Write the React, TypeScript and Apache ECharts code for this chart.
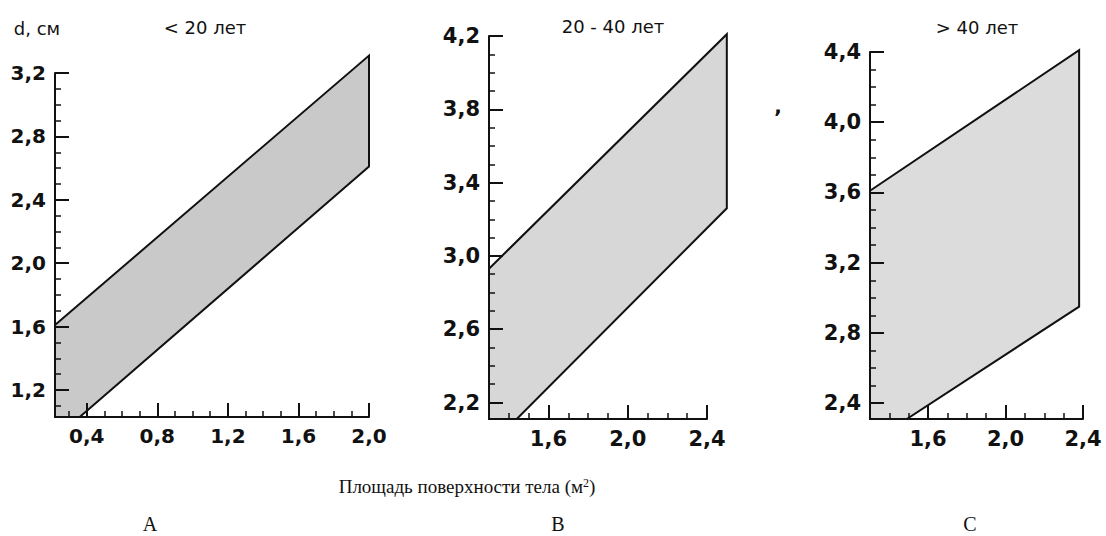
import React, { useEffect, useRef } from "react";
import * as echarts from "echarts";

// Panel titles and captions
const panelTitles = ["< 20 лет", "20 - 40 лет", "> 40 лет"];
const panelLetters = ["A", "B", "C"];
const yName = "d, см";
const xCaption = "Площадь поверхности тела (м";

// Axis ranges [min, max]
const xRangeA = [0.22, 2.0];
const yRangeA = [1.03, 3.2];
const xRangeB = [1.3, 2.4];
const yRangeB = [2.11, 4.2];
const xRangeC = [1.3, 2.4];
const yRangeC = [2.31, 4.4];

// Tick values
const xMajorA = [0.4, 0.8, 1.2, 1.6, 2.0];
const xMinorA = [0.3, 0.5, 0.6, 0.7, 0.9, 1.0, 1.1, 1.3, 1.4, 1.5, 1.7, 1.8, 1.9];
const yMajorA = [1.2, 1.6, 2.0, 2.4, 2.8, 3.2];
const yMinorA = [1.1, 1.3, 1.4, 1.5, 1.7, 1.8, 1.9, 2.1, 2.2, 2.3, 2.5, 2.6, 2.7, 2.9, 3.0, 3.1];

const xMajorB = [1.6, 2.0, 2.4];
const xMinorB = [1.4, 1.5, 1.7, 1.8, 1.9, 2.1, 2.2, 2.3];
const yMajorB = [2.2, 2.6, 3.0, 3.4, 3.8, 4.2];
const yMinorB = [2.3, 2.4, 2.5, 2.7, 2.8, 2.9, 3.1, 3.2, 3.3, 3.5, 3.6, 3.7, 3.9, 4.0, 4.1];

const xMajorC = [1.6, 2.0, 2.4];
const xMinorC = [1.4, 1.5, 1.7, 1.8, 1.9, 2.1, 2.2, 2.3];
const yMajorC = [2.4, 2.8, 3.2, 3.6, 4.0, 4.4];
const yMinorC = [2.5, 2.6, 2.7, 2.9, 3.0, 3.1, 3.3, 3.4, 3.5, 3.7, 3.8, 3.9, 4.1, 4.2, 4.3];

// Normal-range polygons: [body surface area, diameter]
const polyA = [[0.22, 1.61], [2.0, 3.31], [2.0, 2.61], [0.36, 1.03], [0.22, 1.03]];
const polyB = [[1.3, 2.93], [2.5, 4.21], [2.5, 3.26], [1.44, 2.11], [1.3, 2.11]];
const polyC = [[1.3, 3.61], [2.38, 4.41], [2.38, 2.95], [1.49, 2.31], [1.3, 2.31]];

const panels = [
  { xr: xRangeA, yr: yRangeA, xM: xMajorA, xm: xMinorA, yM: yMajorA, ym: yMinorA, poly: polyA, fill: "#c9c9c9",
    grid: { left: 55, top: 73, width: 314, height: 344 }, labelSize: 20 },
  { xr: xRangeB, yr: yRangeB, xM: xMajorB, xm: xMinorB, yM: yMajorB, ym: yMinorB, poly: polyB, fill: "#d7d7d7",
    grid: { left: 489, top: 36, width: 218, height: 383 }, labelSize: 21 },
  { xr: xRangeC, yr: yRangeC, xM: xMajorC, xm: xMinorC, yM: yMajorC, ym: yMinorC, poly: polyC, fill: "#dcdcdc",
    grid: { left: 870, top: 52, width: 213, height: 367 }, labelSize: 21 },
];

const fmt = (v: number) => v.toFixed(1).replace(".", ",");

export default function App() {
  const ref = useRef<HTMLDivElement>(null);
  useEffect(() => {
    if (!ref.current) return;
    const chart = echarts.init(ref.current, undefined, { renderer: "svg" });
    const grids: any[] = [];
    const xAxes: any[] = [];
    const yAxes: any[] = [];
    const series: any[] = [];
    panels.forEach((p, i) => {
      grids.push({ ...p.grid, containLabel: false });
      const labelStyle = {
        fontFamily: "DejaVu Sans",
        fontWeight: "bold",
        fontSize: p.labelSize,
        color: "#111",
      };
      xAxes.push({
        type: "value", gridIndex: i, min: p.xr[0], max: p.xr[1], z: 5, position: "bottom", offset: 0,
        axisLine: { show: true, lineStyle: { color: "#111", width: 2 } },
        axisTick: { show: true, inside: true, length: 14, customValues: p.xM, lineStyle: { color: "#111", width: 2 } },
        axisLabel: { show: true, customValues: p.xM, formatter: fmt, margin: 9, ...labelStyle },
        splitLine: { show: false },
      });
      xAxes.push({
        type: "value", gridIndex: i, min: p.xr[0], max: p.xr[1], z: 5, position: "bottom", offset: 0,
        axisLine: { show: false },
        axisTick: { show: true, inside: true, length: 6, customValues: p.xm, lineStyle: { color: "#111", width: 1.5 } },
        axisLabel: { show: false },
        splitLine: { show: false },
      });
      yAxes.push({
        type: "value", gridIndex: i, min: p.yr[0], max: p.yr[1], z: 5, position: "left", offset: 0,
        axisLine: { show: true, lineStyle: { color: "#111", width: 2 } },
        axisTick: { show: true, inside: true, length: 14, customValues: p.yM, lineStyle: { color: "#111", width: 2 } },
        axisLabel: { show: true, customValues: p.yM, formatter: fmt, margin: 9, ...labelStyle },
        splitLine: { show: false },
      });
      yAxes.push({
        type: "value", gridIndex: i, min: p.yr[0], max: p.yr[1], z: 5, position: "left", offset: 0,
        axisLine: { show: false },
        axisTick: { show: true, inside: true, length: 6, customValues: p.ym, lineStyle: { color: "#111", width: 1.5 } },
        axisLabel: { show: false },
        splitLine: { show: false },
      });
      const poly = p.poly;
      const fill = p.fill;
      series.push({
        type: "custom",
        xAxisIndex: 2 * i,
        yAxisIndex: 2 * i,
        clip: false,
        z: 1,
        encode: { x: 0, y: 1 },
        data: poly,
        renderItem: (params: any, api: any) => {
          if (params.dataIndex !== 0) return null;
          const pts = poly.map((pt) => api.coord(pt));
          return {
            type: "polygon",
            shape: { points: pts },
            style: { fill, stroke: "#111", lineWidth: 2 },
          };
        },
      });
    });

    const titleStyle = { fontFamily: "DejaVu Sans", fontSize: 18, fill: "#111" };
    const letterStyle = { fontFamily: "Liberation Serif", fontSize: 20, fill: "#111" };
    const graphic: any[] = [
      { type: "text", x: 37, y: 28, style: { text: yName, align: "center", verticalAlign: "middle", ...titleStyle } },
      { type: "text", x: 205, y: 27, style: { text: panelTitles[0], align: "center", verticalAlign: "middle", ...titleStyle } },
      { type: "text", x: 613, y: 26, style: { text: panelTitles[1], align: "center", verticalAlign: "middle", ...titleStyle } },
      { type: "text", x: 977, y: 27, style: { text: panelTitles[2], align: "center", verticalAlign: "middle", ...titleStyle } },
      { type: "text", x: 778, y: 106, style: { text: ",", align: "center", verticalAlign: "middle", fontFamily: "DejaVu Sans", fontWeight: "bold", fontSize: 20, fill: "#111" } },
      {
        type: "text", x: 467, y: 486,
        style: {
          text: "{a|" + xCaption + "}{s|2}{a|)}",
          align: "center", verticalAlign: "middle",
          rich: {
            a: { fontFamily: "Liberation Serif", fontSize: 19, fill: "#111", verticalAlign: "bottom" },
            s: { fontFamily: "Liberation Serif", fontSize: 12, fill: "#111", verticalAlign: "top" },
          },
        },
      },
      { type: "text", x: 150, y: 524, style: { text: panelLetters[0], align: "center", verticalAlign: "middle", ...letterStyle } },
      { type: "text", x: 558, y: 524, style: { text: panelLetters[1], align: "center", verticalAlign: "middle", ...letterStyle } },
      { type: "text", x: 970, y: 524, style: { text: panelLetters[2], align: "center", verticalAlign: "middle", ...letterStyle } },
    ];

    chart.setOption({
      animation: false,
      backgroundColor: "#ffffff",
      grid: grids,
      xAxis: xAxes,
      yAxis: yAxes,
      series,
      graphic,
    });
    return () => chart.dispose();
  }, []);
  return (
    <div
      ref={ref}
      style={{ position: "absolute", left: 0, top: 0, width: 1106, height: 536 }}
    />
  );
}
